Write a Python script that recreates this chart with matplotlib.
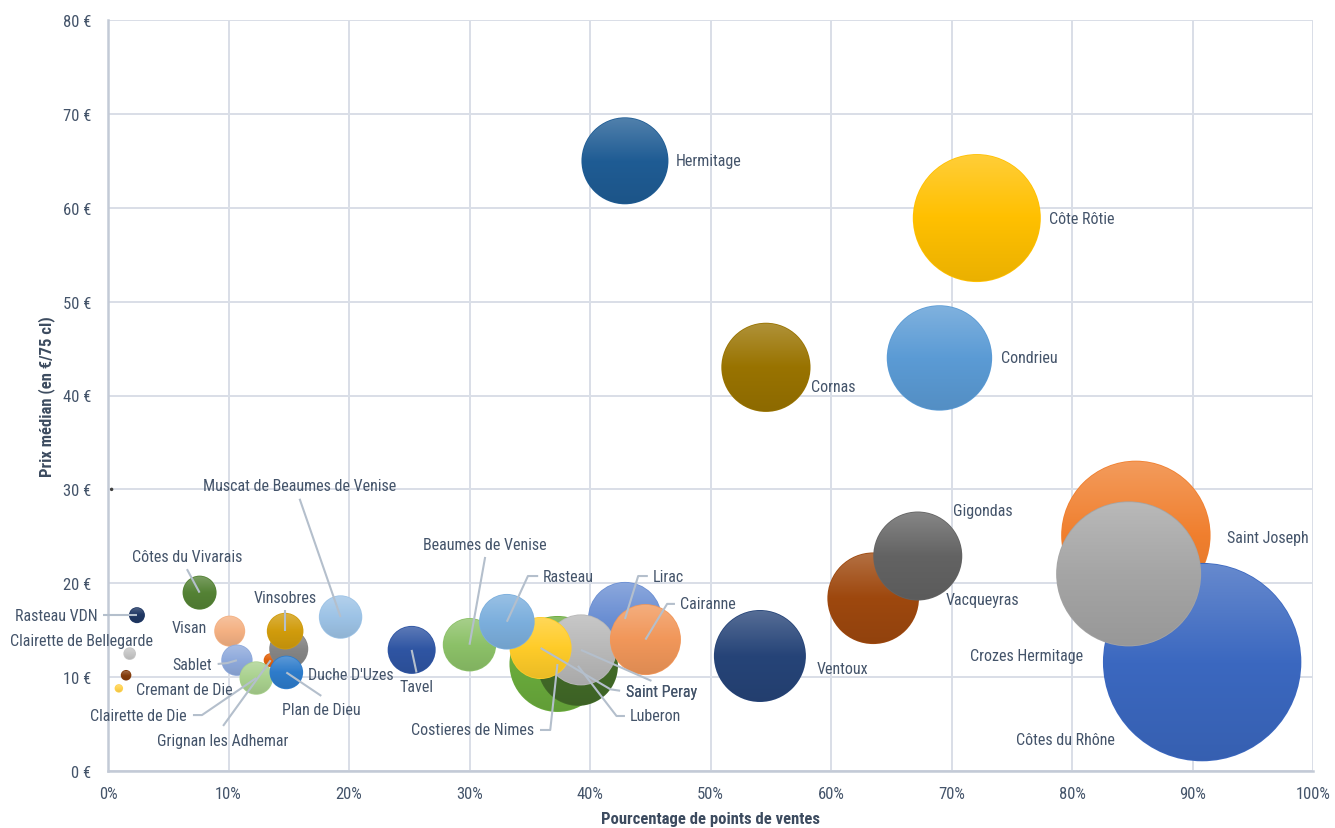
import numpy as np
import matplotlib
matplotlib.use("Agg")
import matplotlib.pyplot as plt
from matplotlib.patches import Ellipse
from matplotlib.colors import to_rgb
from matplotlib import font_manager

# appellations, dans l'ordre de tracé (les dernières passent devant)
noms = ["", "Rasteau VDN", "Clairette de Bellegarde", "", "Cremant de Die",
        "Côtes du Vivarais", "Visan", "Sablet", "Grignan les Adhemar", "Duche D'Uzes",
        "Vinsobres", "Clairette de Die", "Plan de Dieu", "Muscat de Beaumes de Venise", "Tavel",
        "Beaumes de Venise", "Costieres de Nimes", "Luberon", "Lirac", "Saint Peray",
        "Saint Peray", "Rasteau", "Cairanne", "Hermitage", "Côte Rôtie",
        "Cornas", "Condrieu", "Ventoux", "Vacqueyras", "Gigondas",
        "Saint Joseph", "Côtes du Rhône", "Crozes Hermitage"]

# pourcentage de points de ventes
pct_points = [0.3, 2.4, 1.8, 1.5, 0.9,
              7.6, 10.1, 10.7, 13.5, 15.0,
              14.7, 12.3, 14.8, 19.3, 25.2,
              30.0, 37.3, 39.0, 42.9, 39.25,
              35.9, 33.1, 44.6, 42.9, 72.1,
              54.6, 69.0, 54.1, 63.5, 67.2,
              85.3, 90.8, 84.7]

# prix médian en euros
prix = [30.0, 16.6, 12.5, 10.2, 8.8,
        19.0, 14.9, 11.8, 11.8, 13.0,
        14.9, 9.9, 10.5, 16.4, 12.9,
        13.45, 11.4, 11.2, 16.2, 12.9,
        13.1, 15.9, 14.0, 65.0, 58.9,
        43.0, 44.0, 12.25, 18.4, 22.9,
        25.1, 11.6, 21.0]

# taille des bulles (aire relative)
taille = [0.3, 6.4, 4.0, 2.8, 1.8,
          28.9, 24.0, 24.6, 4.9, 38.0,
          33.5, 27.9, 28.2, 47.1, 57.6,
          71.3, 230.4, 160.0, 136.9, 126.0,
          96.1, 77.3, 126.0, 189.2, 409.6,
          198.9, 277.7, 211.6, 209.8, 198.0,
          558.0, 984.0, 525.6]

couleurs = ["#404040", "#203864", "#C8C8C8", "#843C0C", "#FFD24D",
            "#548235", "#F4B183", "#8FAADC", "#E2630E", "#858585",
            "#D19C0C", "#A9D18E", "#2E7CCB", "#9DC3E6", "#2F55A3",
            "#8CC168", "#6AAB3C", "#426A28", "#6B8FD3", "#B8B8B8",
            "#FFCC29", "#7CAFDD", "#F1975A", "#1F5C94", "#FFC000",
            "#997300", "#5B9BD5", "#264478", "#9E480E", "#636363",
            "#F07F2E", "#3B68C0", "#A5A5A5"]

# position des étiquettes : indice -> (x, y, alignement, points du trait de rappel)
etiquettes = {
    1: (-0.9, 16.6, "right", [(-0.4, 16.6)]),
    2: (3.7, 13.95, "right", None),
    4: (2.3, 8.7, "left", None),
    5: (6.55, 22.9, "center", [(6.55, 21.5)]),
    6: (8.2, 15.3, "right", None),
    7: (8.6, 11.3, "right", [(9.1, 11.4), (9.9, 11.5)]),
    8: (9.5, 3.3, "center", [(9.55, 4.8)]),
    9: (16.6, 10.3, "left", None),
    10: (14.7, 18.5, "center", [(14.7, 17.15)]),
    11: (6.55, 5.96, "right", [(7.05, 5.96), (7.8, 5.96)]),
    12: (17.7, 6.6, "center", [(17.7, 8.0)]),
    13: (15.9, 30.4, "center", [(15.9, 29.0)]),
    14: (25.6, 8.95, "center", [(25.6, 10.5)]),
    15: (31.3, 24.1, "center", [(31.3, 22.8)]),
    16: (35.35, 4.37, "right", [(35.85, 4.37), (36.7, 4.37)]),
    17: (43.3, 5.86, "left", [(42.9, 5.86), (42.2, 5.86)]),
    18: (45.2, 20.77, "left", [(44.8, 20.77), (44.0, 20.77)]),
    19: (43.0, 8.45, "left", [(45.1, 9.6)]),
    20: (43.0, 8.45, "left", [(42.5, 8.55), (41.7, 8.7)]),
    21: (36.1, 20.77, "left", [(35.7, 20.77), (34.85, 20.77)]),
    22: (47.5, 17.8, "left", [(47.05, 17.8), (46.4, 17.8)]),
    23: (47.1, 65.0, "left", None),
    24: (78.1, 58.9, "left", None),
    25: (58.3, 41.0, "left", None),
    26: (74.1, 44.0, "left", None),
    27: (58.8, 10.9, "left", None),
    28: (69.5, 18.3, "left", None),
    29: (70.1, 27.7, "left", None),
    30: (92.9, 24.9, "left", None),
    31: (75.35, 3.4, "left", None),
    32: (71.5, 12.35, "left", None),
}

dispo = {f.name for f in font_manager.fontManager.ttflist}
police = next((p for p in ["Liberation Sans Narrow", "Roboto Condensed", "Open Sans Condensed", "Liberation Sans"]
               if p in dispo), "DejaVu Sans")
plt.rcParams["font.family"] = [police, "DejaVu Sans"]

gris_texte = "#44546A"
gris_grille = "#D9DEE7"

fig = plt.figure(figsize=(13.35, 8.29), dpi=100)
ax = fig.add_axes([108 / 1335, 57 / 829, 1205 / 1335, 751 / 829])
ax.set_xlim(0, 100)
ax.set_ylim(0, 80)
ax.set_autoscale_on(False)

ax.set_xticks(range(0, 101, 10))
ax.set_xticklabels([f"{v}%" for v in range(0, 101, 10)])
ax.set_yticks(range(0, 81, 10))
ax.set_yticklabels([f"{v} €" for v in range(0, 81, 10)])
ax.tick_params(length=0, labelsize=12, labelcolor=gris_texte)
ax.tick_params(axis="x", pad=11)
ax.tick_params(axis="y", pad=12)
ax.grid(True, color=gris_grille, linewidth=1.4)
ax.set_axisbelow(True)
for cote in ["top", "right"]:
    ax.spines[cote].set_visible(False)
for cote in ["left", "bottom"]:
    ax.spines[cote].set_color("#C3CAD6")
    ax.spines[cote].set_linewidth(1.8)

ax.set_ylabel("Prix médian (en €/75 cl)", fontsize=12, fontweight="bold", color="#3C4B5F")
ax.yaxis.set_label_coords(-0.0437, 0.5)
ax.set_xlabel("Pourcentage de points de ventes", fontsize=12, fontweight="bold", color="#3C4B5F")
ax.xaxis.set_label_coords(0.5, -0.0535)

# échelle pixels par unité de données
p0 = ax.transData.transform((0, 0))
p1 = ax.transData.transform((1, 1))
sx, sy = p1[0] - p0[0], p1[1] - p0[1]

t = np.linspace(0, 1, 96)[:, None]
for i, (x, y, s, c) in enumerate(zip(pct_points, prix, taille, couleurs)):
    r = np.sqrt(s * 10)
    base = np.array(to_rgb(c))
    haut = base + (1 - base) * 0.22
    bas = base * 0.92
    z = 2 + i
    fond = Ellipse((x, y), 2 * r / sx, 2 * r / sy, facecolor=base, edgecolor="none", zorder=z)
    ax.add_patch(fond)
    if r < 4:
        continue
    w, h = 2 * (r - 0.8) / sx, 2 * (r - 0.8) / sy
    clip = Ellipse((x, y), w, h, facecolor="none", edgecolor="none", transform=ax.transData)
    grad = np.where(t < 0.5, haut + (base - haut) * (t / 0.5), base + (bas - base) * ((t - 0.5) / 0.5))
    img = ax.imshow(grad[:, None, :], extent=[x - w / 2, x + w / 2, y - h / 2, y + h / 2],
                    aspect="auto", interpolation="bilinear", origin="upper", zorder=z + 0.5)
    img.set_clip_path(clip)

# traits de rappel et étiquettes
for i, (tx, ty, ha, pts) in etiquettes.items():
    if pts:
        xs = [p[0] for p in pts] + [pct_points[i]]
        ys = [p[1] for p in pts] + [prix[i]]
        ax.plot(xs, ys, color="#B4BFCC", linewidth=1.5, zorder=50, clip_on=False,
                solid_capstyle="butt")
    ax.text(tx, ty, noms[i], ha=ha, va="center", fontsize=11.5, color=gris_texte,
            zorder=60, clip_on=False)

ax.set_xlim(0, 100)
ax.set_ylim(0, 80)
fig.savefig("out.png", dpi=100)
